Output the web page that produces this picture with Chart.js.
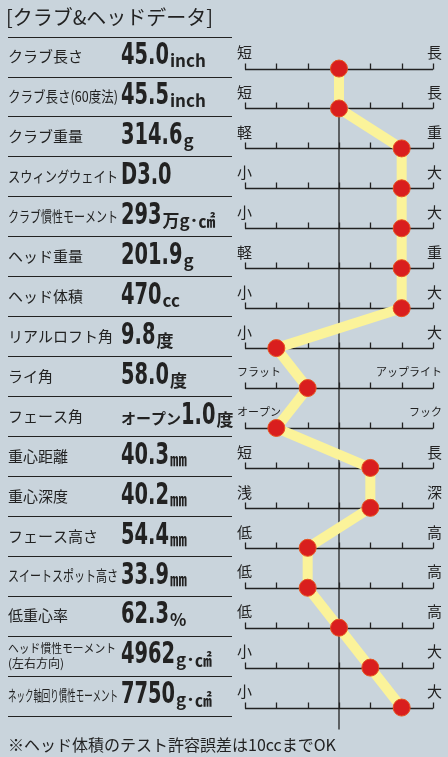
<!DOCTYPE html>
<html><head><meta charset="utf-8">
<script src="https://cdn.jsdelivr.net/npm/chart.js@4"></script>
<style>html,body{margin:0;padding:0;background:#c9d4dc}</style>
</head><body>
<canvas id="c" width="448" height="757" style="width:448px;height:757px"></canvas>
<script>
// ─── Data ────────────────────────────────────────────────────────────────────
const ITEM_NAMES = ['クラブ長さ','クラブ長さ(60度法)','クラブ重量','スウィングウェイト','クラブ慣性モーメント','ヘッド重量','ヘッド体積','リアルロフト角','ライ角','フェース角','重心距離','重心深度','フェース高さ','スイートスポット高さ','低重心率','ヘッド慣性モーメント\n(左右方向)','ネック軸回り慣性モーメント'];
const VALUE_PREFIX = ['','','','','','','','','','オープン','','','','','','',''];
const VALUE_NUMS = ['45.0','45.5','314.6','D3.0','293','201.9','470','9.8','58.0','1.0','40.3','40.2','54.4','33.9','62.3','4962','7750'];
const VALUE_UNITS = ['inch','inch','g','','万g･㎠','g','cc','度','度','度','㎜','㎜','㎜','㎜','%','g･㎠','g･㎠'];
const LEFT_LABELS = ['短','短','軽','小','小','軽','小','小','フラット','オープン','短','浅','低','低','低','小','小'];
const RIGHT_LABELS = ['長','長','重','大','大','重','大','大','アップライト','フック','長','深','高','高','高','大','大'];
const SCORES = [0,0,2,2,2,2,2,-2,-1,-2,1,1,-1,-1,0,1,2];
const TITLE = '[クラブ&ヘッドデータ]';
const NOTE = '※ヘッド体積のテスト許容誤差は10ccまでOK';

const JP = '"Noto Sans CJK JP", sans-serif';
const NUM = '"DejaVu Sans Condensed", "Liberation Sans Narrow", sans-serif';
const NUM_SQUEEZE = 0.72;

const decor = {
  id: 'decor',
  beforeDraw(chart) {
    const ctx = chart.ctx, xs = chart.scales.x, ys = chart.scales.y;
    ctx.save();
    ctx.fillStyle = '#c9d4dc';
    ctx.fillRect(0, 0, chart.width, chart.height);
    ctx.fillStyle = '#222';
    ctx.font = '20px ' + JP;
    ctx.textBaseline = 'middle';
    ctx.fillText(TITLE, 6, 17);
    const rowH = ys.getPixelForValue(1) - ys.getPixelForValue(0);
    ctx.strokeStyle = '#222';
    ctx.lineWidth = 1.2;
    for (let i = 0; i <= ITEM_NAMES.length; i++) {
      const y = Math.round(ys.getPixelForValue(i) - rowH * 0.8) + 0.5;
      ctx.beginPath(); ctx.moveTo(8, y); ctx.lineTo(232, y); ctx.stroke();
    }
    // center line
    ctx.lineWidth = 1.3;
    const cx = xs.getPixelForValue(0);
    ctx.beginPath(); ctx.moveTo(cx, ys.getPixelForValue(1)); ctx.lineTo(cx, ys.getPixelForValue(16) + 22); ctx.stroke();
    ITEM_NAMES.forEach((name, i) => {
      const yl = ys.getPixelForValue(i);
      const mid = yl - rowH * 0.3;
      // name
      ctx.fillStyle = '#222';
      ctx.textAlign = 'left';
      const lines = name.split('\n');
      if (lines.length > 1) {
        ctx.font = '12px ' + JP;
        ctx.fillText(lines[0], 8, mid - 7, 108);
        ctx.fillText(lines[1], 8, mid + 8, 108);
      } else {
        ctx.font = '15px ' + JP;
        ctx.fillText(name, 8, mid, 110);
      }
      // value
      let x = 121;
      if (VALUE_PREFIX[i]) {
        ctx.font = 'bold 15px ' + JP;
        ctx.fillText(VALUE_PREFIX[i], x, mid + 2);
        x += ctx.measureText(VALUE_PREFIX[i]).width;
      }
      ctx.font = 'bold 30px ' + NUM;
      ctx.save();
      ctx.translate(x, mid);
      ctx.scale(NUM_SQUEEZE, 1);
      ctx.fillText(VALUE_NUMS[i], 0, 0);
      ctx.restore();
      x += ctx.measureText(VALUE_NUMS[i]).width * NUM_SQUEEZE + 1;
      ctx.font = 'bold 17px ' + JP;
      ctx.fillText(VALUE_UNITS[i], x, mid + 4);
      // scale line
      const y = Math.round(yl) + 0.5;
      ctx.lineWidth = 1.3;
      ctx.beginPath();
      ctx.moveTo(xs.getPixelForValue(-3), y); ctx.lineTo(xs.getPixelForValue(3), y);
      for (let t = -3; t <= 3; t++) {
        const tx = Math.round(xs.getPixelForValue(t)) + 0.5;
        ctx.moveTo(tx, y); ctx.lineTo(tx, y - 6);
      }
      ctx.stroke();
      const long = LEFT_LABELS[i].length > 1 || RIGHT_LABELS[i].length > 1;
      ctx.font = (long ? '11px ' : '15px ') + JP;
      ctx.fillText(LEFT_LABELS[i], 237, yl - 16);
      ctx.textAlign = 'right';
      ctx.fillText(RIGHT_LABELS[i], 442, yl - 16);
    });
    ctx.textAlign = 'left';
    ctx.font = '16px ' + JP;
    ctx.fillText(NOTE, 8, 745);
    ctx.restore();
  }
};

new Chart(document.getElementById('c'), {
  type: 'line',
  data: {
    datasets: [{
      data: SCORES.map((s, i) => ({ x: s, y: i })),
      borderColor: '#fbf39a',
      borderWidth: 10,
      borderJoinStyle: 'round',
      pointBackgroundColor: '#d91e1e',
      pointBorderColor: '#e8541f',
      pointBorderWidth: 1,
      pointRadius: 8.5,
      tension: 0
    }]
  },
  options: {
    responsive: false,
    animation: false,
    layout: { padding: { left: 245, right: 15, top: 28.6, bottom: 0 } },
    plugins: { legend: { display: false }, tooltip: { enabled: false } },
    scales: {
      x: { type: 'linear', min: -3, max: 3, display: false },
      y: { type: 'linear', min: -1, max: 17, reverse: true, display: false }
    }
  },
  plugins: [decor]
});
</script>
</body></html>
